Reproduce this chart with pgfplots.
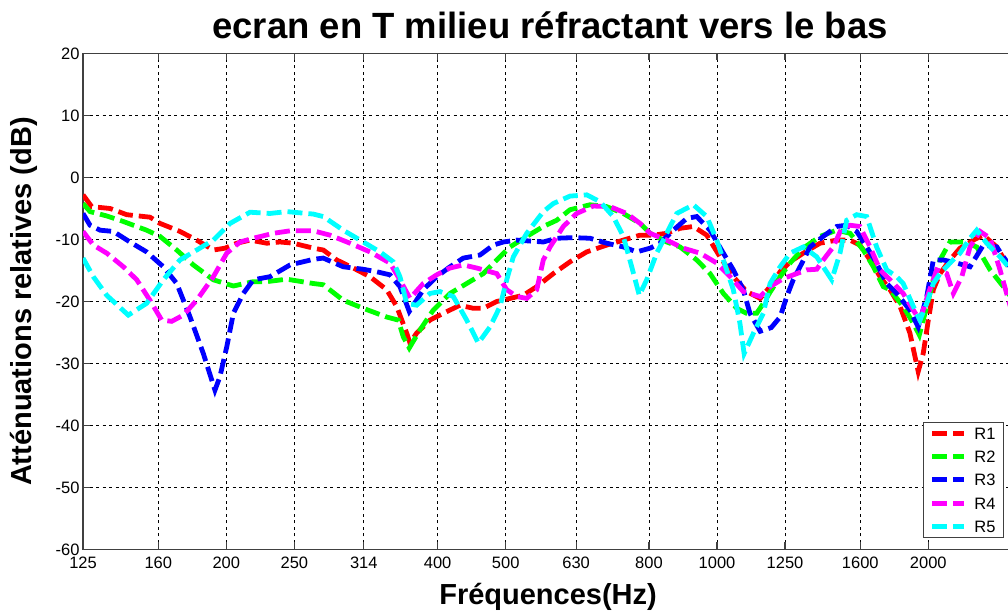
\documentclass[border=0pt]{standalone}
\usepackage{fontspec}
\setmainfont{Liberation Sans}
\usepackage{pgfplots}
\pgfplotsset{compat=1.18}
\definecolor{mred}{RGB}{255,0,0}
\definecolor{mgreen}{RGB}{0,255,0}
\definecolor{mblue}{RGB}{0,0,255}
\definecolor{mmag}{RGB}{255,0,255}
\definecolor{mcyan}{RGB}{0,255,255}
\begin{document}
\begin{tikzpicture}
\begin{axis}[
 name=ax,
 scale only axis,
 width=936.8pt, height=496pt,
 xmode=log,
 xmin=125, xmax=2700,
 ymin=-60, ymax=20,
 xtick={125,160,200,250,314,400,500,630,800,1000,1250,1600,2000},
 xticklabels={125,160,200,250,314,400,500,630,800,1000,1250,1600,2000},
 ytick={-60,-50,-40,-30,-20,-10,0,10,20},
 yticklabels={-60,-50,-40,-30,-20,-10,0,10,20},
 minor xtick={},
 xminorgrids=false,
 tick align=inside,
 tick pos=both,
 major tick length=7pt,
 grid=major,
 grid style={black, line width=0.9pt, dash pattern=on 3pt off 3.5pt},
 axis line style={black!75, line width=1.3pt},
 every tick/.style={black!75, line width=1.2pt},
 tick label style={font=\fontsize{16.5}{16.5}\selectfont},
 x tick label style={yshift=-4pt},
 title={ecran en T milieu réfractant vers le bas},
 title style={font=\bfseries\fontsize{36.5}{36.5}\selectfont, at={(axis description cs:0.4985,1.019)}, anchor=base},
 xlabel={Fréquences(Hz)},
 xlabel style={font=\bfseries\fontsize{29}{29}\selectfont, at={(axis description cs:0.4964,0)}, anchor=base, yshift=-54.5pt},
 ylabel={Atténuations relatives (dB)},
 ylabel style={font=\bfseries\fontsize{29}{29}\selectfont, at={(axis description cs:-0.0448,0.5)}, anchor=south},
 legend style={at={(axis description cs:0.8967,0.2577)}, anchor=north west, draw=black!75, line width=1.2pt,
   font=\fontsize{16.5}{16.5}\selectfont, inner xsep=6pt, inner ysep=3pt, row sep=7.3pt, column sep=6pt,
   nodes={inner sep=2pt, text height=12pt, text depth=0pt}, cells={anchor=west}},
 legend image code/.code={\draw[#1] (0pt,0pt) -- (32pt,0pt);},
 every axis plot/.append style={line width=4.8pt, dash pattern=on 15pt off 6pt, no marks},
]
\addplot[mred] table {
125 -2.8
128.6 -4.7
136.6 -5.0
144.3 -6.0
155.7 -6.4
160.9 -7.4
171.8 -8.7
181.5 -10.1
191.7 -11.7
199.2 -11.4
207.0 -10.6
216.2 -10.1
228.4 -10.6
238.5 -10.4
249.2 -10.6
266.1 -11.4
274.9 -11.7
287.3 -13.3
303.3 -14.6
320.4 -16.0
338.4 -18.1
349.7 -20.8
361.4 -25.1
365.3 -26.7
373.4 -25.1
390.1 -23.0
407.5 -21.9
430.4 -20.6
449.6 -21.1
464.6 -21.1
485.6 -20.0
507.2 -19.5
529.8 -19.0
553.6 -17.6
584.6 -15.5
617.5 -13.6
652.3 -12.0
696.5 -10.9
735.5 -10.1
776.9 -9.3
811.5 -9.3
848.0 -9.0
885.8 -8.2
925.3 -7.9
966.9 -9.3
1010 -12.8
1055 -16.0
1102 -18.4
1152 -19.5
1190 -17.6
1230 -15.2
1271 -13.6
1327 -12.2
1402 -10.6
1481 -10.1
1547 -10.1
1598 -10.9
1652 -13.3
1707 -16.0
1764 -18.1
1823 -20.8
1883 -25.1
1935 -31.3
1967 -28.4
2000 -23.0
2033 -18.1
2078 -15.5
2147 -13.3
2219 -11.4
2318 -10.1
2395 -9.3
2503 -11.2
2620 -15.0
};
\addlegendentry{R1}
\addplot[mgreen] table {
125 -4.2
127.9 -5.5
135.1 -6.2
142.7 -7.1
154.0 -8.5
160.9 -9.5
170.0 -11.7
179.5 -14.1
191.7 -16.5
204.7 -17.5
218.5 -16.8
228.4 -16.8
243.8 -16.4
266.1 -17.1
274.9 -17.3
293.5 -19.8
313.4 -21.1
338.4 -22.5
351.6 -23.0
357.4 -25.7
364.5 -27.5
377.5 -24.6
394.3 -21.4
416.6 -18.7
440.0 -17.1
464.6 -15.5
485.6 -13.3
507.2 -11.2
535.8 -9.5
565.7 -7.9
591.2 -6.9
617.5 -5.2
659.4 -4.4
696.5 -4.7
735.5 -5.8
776.9 -7.4
802.8 -9.0
848.0 -10.4
885.8 -11.2
935.7 -13.3
977.4 -15.5
1021 -18.7
1067 -21.1
1102 -21.9
1139 -21.9
1164 -20.3
1190 -18.5
1230 -16.0
1271 -13.8
1327 -11.4
1402 -9.5
1481 -8.5
1547 -9.0
1616 -11.7
1670 -14.4
1725 -17.6
1764 -18.1
1842 -20.8
1904 -23.5
1942 -25.4
1990 -20.8
2033 -16.5
2078 -13.3
2147 -10.4
2243 -10.4
2344 -11.2
2449 -14.9
2558 -17.6
2620 -19.2
};
\addlegendentry{R2}
\addplot[mblue] table {
125 -5.8
127.9 -7.7
132.2 -8.5
138.1 -8.7
145.8 -10.4
154.0 -12.0
162.7 -14.4
170.0 -17.1
177.6 -22.5
185.5 -28.4
192.7 -34.3
195.9 -32.1
200.3 -27.3
204.7 -21.9
211.5 -18.7
218.5 -16.5
230.8 -16.0
246.5 -14.1
266.1 -13.2
274.9 -13.0
293.5 -14.4
313.4 -14.8
327.5 -15.2
342.1 -15.7
353.5 -17.6
364.5 -21.6
381.6 -18.1
398.8 -16.0
416.6 -14.4
435.1 -13.0
459.6 -12.5
480.2 -10.9
496.2 -10.4
518.5 -10.1
565.7 -10.4
591.2 -9.8
624.2 -9.7
659.4 -9.8
696.5 -10.6
735.5 -11.2
768.5 -12.0
802.8 -11.4
829.6 -10.6
866.5 -8.5
905.5 -6.6
935.7 -6.3
977.4 -8.5
1021 -12.2
1055 -14.9
1090 -18.1
1114 -21.9
1152 -24.8
1195 -24.2
1230 -22.5
1257 -19.2
1284 -16.5
1313 -14.4
1357 -11.2
1417 -9.5
1481 -7.9
1530 -7.7
1581 -8.7
1634 -11.2
1688 -13.8
1745 -17.1
1803 -18.7
1883 -21.4
1935 -24.1
1990 -19.2
2033 -13.3
2101 -13.3
2195 -13.8
2293 -14.4
2395 -10.9
2503 -11.2
2620 -14.5
};
\addlegendentry{R3}
\addplot[mmag] table {
125 -8.7
129.3 -10.9
135.1 -12.2
142.7 -14.4
149.1 -16.5
155.7 -19.8
161.8 -23.0
167.2 -23.2
173.7 -22.2
181.5 -19.8
191.7 -16.0
200.3 -12.2
209.2 -10.4
218.5 -9.8
233.4 -9.0
246.5 -8.6
266.1 -8.6
281.0 -9.3
300.1 -10.6
320.4 -12.0
342.1 -13.8
353.5 -16.5
365.3 -19.5
381.6 -17.1
398.8 -15.7
416.6 -14.6
435.1 -14.1
454.7 -14.6
485.6 -15.5
501.7 -18.1
518.5 -19.2
535.8 -19.5
553.6 -18.1
565.7 -13.3
578.3 -11.2
604.1 -7.9
631.2 -5.8
666.5 -4.6
704.1 -4.7
743.7 -5.8
776.9 -7.4
802.8 -9.0
848.0 -10.1
895.4 -11.4
945.9 -12.2
999.1 -13.8
1044 -16.0
1090 -18.4
1152 -19.2
1190 -17.6
1243 -16.3
1299 -15.5
1342 -14.9
1387 -14.8
1417 -13.3
1464 -11.2
1505 -8.2
1547 -7.7
1598 -7.9
1652 -11.2
1707 -14.9
1764 -16.5
1842 -18.7
1904 -21.4
1946 -23.0
2000 -18.7
2056 -14.9
2124 -15.5
2171 -18.7
2232 -16.0
2293 -11.2
2370 -8.7
2449 -9.8
2530 -14.9
2620 -21.0
};
\addlegendentry{R4}
\addplot[mcyan] table {
125 -13.0
129.3 -16.0
135.1 -19.0
145.0 -22.2
154.0 -20.3
162.7 -16.5
171.8 -13.3
181.5 -11.7
191.7 -10.1
202.5 -7.4
216.2 -5.6
230.8 -5.8
243.8 -5.5
266.1 -5.9
274.9 -6.3
293.5 -8.5
313.4 -10.4
331.1 -12.0
345.9 -13.6
353.5 -16.0
361.4 -20.3
373.4 -20.6
390.1 -18.7
403.1 -18.4
421.1 -19.2
440.0 -23.0
457.1 -26.7
475.0 -24.1
490.8 -20.8
501.7 -16.5
512.7 -12.8
535.8 -9.0
565.7 -5.5
584.6 -4.2
617.5 -3.0
652.3 -2.8
681.4 -3.9
711.7 -6.3
735.5 -9.5
756.0 -14.4
775.1 -19.0
794.1 -16.5
820.6 -12.2
848.0 -9.0
876.3 -5.8
925.3 -4.4
966.9 -6.3
999.1 -10.1
1021 -13.3
1055 -18.1
1078 -23.5
1093 -28.4
1127 -25.1
1164 -21.9
1190 -17.1
1230 -14.4
1271 -12.2
1327 -11.2
1387 -12.8
1457 -16.5
1497 -12.2
1530 -6.9
1581 -6.0
1634 -6.3
1688 -11.2
1745 -14.9
1803 -16.0
1842 -17.1
1904 -20.8
1946 -23.0
1990 -20.3
2033 -17.1
2078 -15.5
2147 -13.8
2219 -12.2
2293 -9.8
2344 -8.5
2422 -10.6
2530 -12.8
2620 -14.8
};
\addlegendentry{R5}
\end{axis}
\pgfresetboundingbox
\path[use as bounding box] ([xshift=-83pt,yshift=-62.5pt]ax.south west) rectangle ([xshift=925pt,yshift=53.5pt]ax.north west);
\end{tikzpicture}
\end{document}
